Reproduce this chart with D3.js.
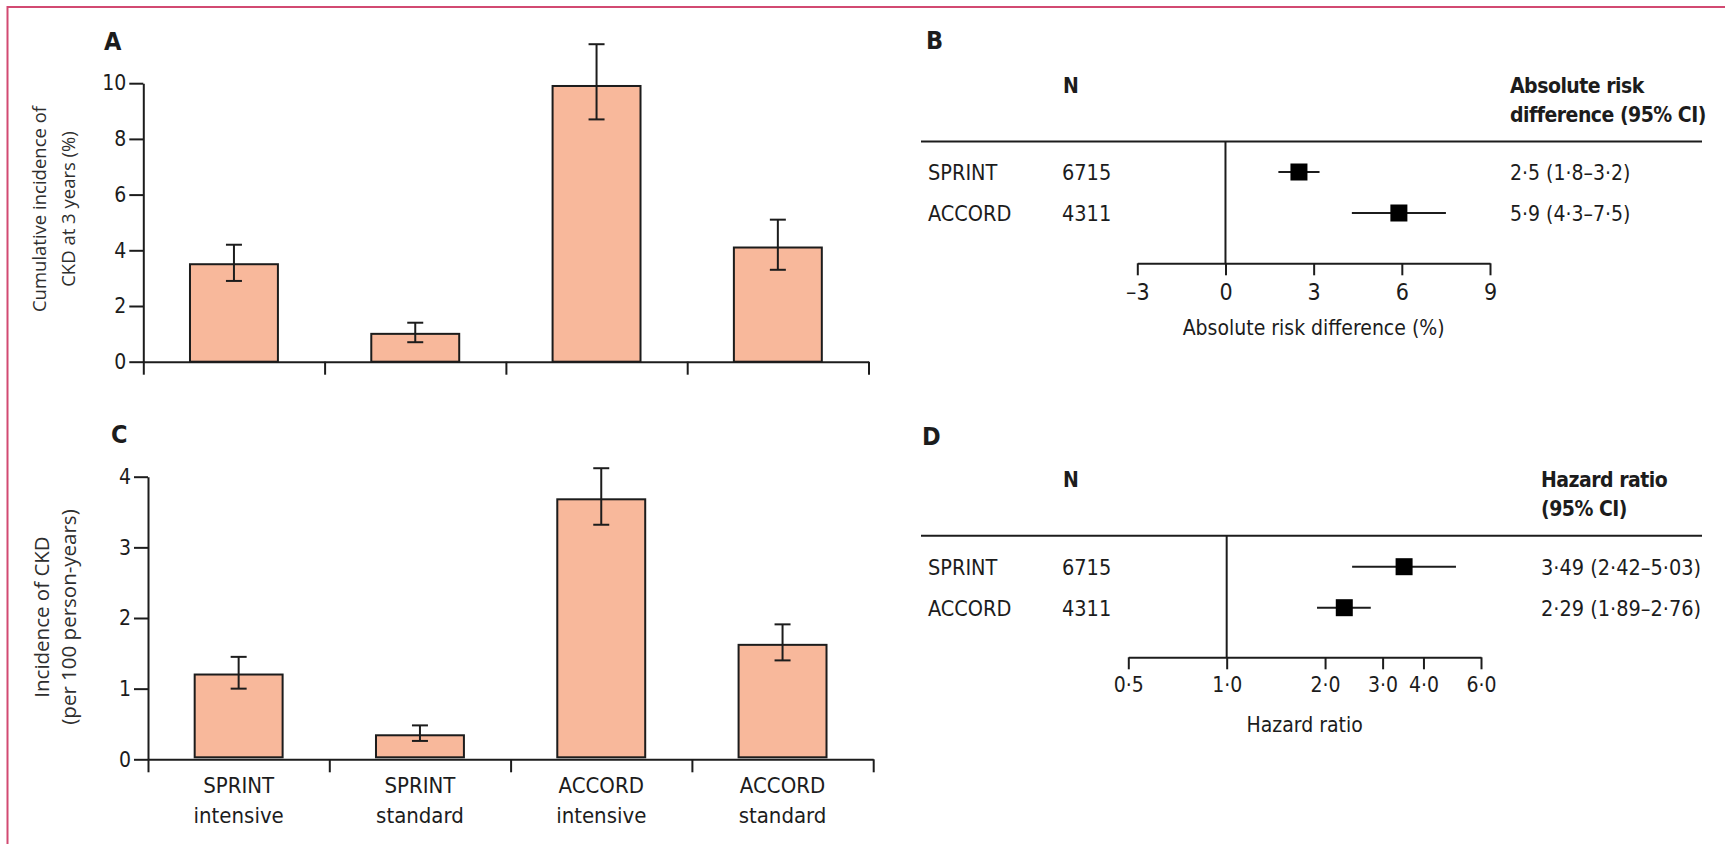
<!DOCTYPE html>
<html>
<head>
<meta charset="utf-8">
<script src="https://cdn.jsdelivr.net/npm/d3@7"></script>
<style>
  html, body { margin: 0; padding: 0; background: #ffffff; }
  svg { display: block; }
  .cond { font-stretch: condensed; }
</style>
</head>
<body>
<div id="chart"></div>
<script>
/* CKD incidence figure: bar charts (A, C) and forest plots (B, D) */
(function () {
  'use strict';

  // ---- data ----
  var CATEGORIES = ['SPRINT intensive', 'SPRINT standard', 'ACCORD intensive', 'ACCORD standard'];

  var CUM_INCIDENCE = [3.5, 1.0, 9.9, 4.1];
  var CUM_LOWER     = [2.9, 0.7, 8.7, 3.3];
  var CUM_UPPER     = [4.2, 1.4, 11.4, 5.1];
  var CUM_TICKS     = [0, 2, 4, 6, 8, 10];

  var INC_RATE  = [1.2, 0.34, 3.68, 1.62];
  var INC_LOWER = [1.0, 0.26, 3.32, 1.40];
  var INC_UPPER = [1.45, 0.48, 4.12, 1.91];
  var INC_TICKS = [0, 1, 2, 3, 4];

  var TRIALS  = ['SPRINT', 'ACCORD'];
  var TRIAL_N = [6715, 4311];

  var ARD       = [2.5, 5.9];
  var ARD_LOWER = [1.8, 4.3];
  var ARD_UPPER = [3.2, 7.5];
  var ARD_TICKS = [-3, 0, 3, 6, 9];

  var HR       = [3.49, 2.29];
  var HR_LOWER = [2.42, 1.89];
  var HR_UPPER = [5.03, 2.76];
  var HR_TICKS = [0.5, 1, 2, 3, 4, 6];

  // ---- style ----
  var W = 1725, H = 844;
  var COLOR_INK   = '#1c1c1c';
  var COLOR_TITLE = '#2e2e2e';
  var COLOR_BAR   = '#f8b89b';
  var COLOR_FRAME = '#d24a72';
  var FONT_MAIN   = '"DejaVu Sans Condensed", "Liberation Sans Narrow", "Roboto Condensed", "DejaVu Sans", sans-serif';
  var FONT_TITLE  = '"Open Sans", "Noto Sans", sans-serif';
  var BAR_PAD     = 0.515;
  var CAP_W       = 16;
  var BOX         = 17;

  function fmtDot(v, digits) {
    return v.toFixed(digits).replace('.', '\u00b7');
  }

  function addText(g, x, y, str, size, opts) {
    opts = opts || {};
    return g.append('text')
      .attr('class', opts.family ? null : 'cond')
      .attr('x', x).attr('y', y)
      .attr('text-anchor', opts.anchor || 'start')
      .attr('font-family', opts.family || FONT_MAIN)
      .attr('font-size', size + 'px')
      .attr('font-weight', opts.weight || 'normal')
      .attr('letter-spacing', opts.spacing || null)
      .attr('fill', opts.fill || COLOR_INK)
      .text(str);
  }

  function drawBarPanel(svg, cfg) {
    var g = svg.append('g');
    var x = d3.scaleBand().domain(CATEGORIES).range([cfg.x0, cfg.x1])
      .paddingInner(BAR_PAD).paddingOuter(BAR_PAD / 2);
    var y = d3.scaleLinear().domain([0, cfg.max]).range([cfg.yBase, cfg.yTop]);
    var edge = d3.scaleLinear().domain([0, CATEGORIES.length]).range([cfg.x0, cfg.x1]);
    var gap = cfg.baseGap || 0;

    g.selectAll('rect.bar').data(cfg.values).join('rect')
      .attr('class', 'bar')
      .attr('x', function (d, i) { return x(CATEGORIES[i]); })
      .attr('y', function (d) { return y(d); })
      .attr('width', x.bandwidth())
      .attr('height', function (d) { return cfg.yBase - gap - y(d); })
      .attr('fill', COLOR_BAR)
      .attr('stroke', COLOR_INK)
      .attr('stroke-width', 2);

    // error bars
    var eb = g.append('g').attr('stroke', COLOR_INK).attr('stroke-width', 2);
    cfg.values.forEach(function (v, i) {
      var cx = x(CATEGORIES[i]) + x.bandwidth() / 2;
      var yl = y(cfg.lower[i]), yu = y(cfg.upper[i]);
      eb.append('line').attr('x1', cx).attr('x2', cx).attr('y1', yl).attr('y2', yu);
      eb.append('line').attr('x1', cx - CAP_W / 2).attr('x2', cx + CAP_W / 2).attr('y1', yl).attr('y2', yl);
      eb.append('line').attr('x1', cx - CAP_W / 2).attr('x2', cx + CAP_W / 2).attr('y1', yu).attr('y2', yu);
    });

    // axes
    var yAxis = g.append('g')
      .attr('transform', 'translate(' + cfg.x0 + ',0)')
      .call(d3.axisLeft(y).tickValues(cfg.ticks).tickSize(14).tickPadding(3)
        .tickSizeOuter(0).tickFormat(d3.format('d')));
    var xAxis = g.append('g')
      .attr('transform', 'translate(0,' + cfg.yBase + ')')
      .call(d3.axisBottom(edge).tickValues(d3.range(CATEGORIES.length + 1))
        .tickSize(13).tickSizeOuter(0).tickFormat(''));

    [yAxis, xAxis].forEach(function (ax) {
      ax.selectAll('path, line').attr('stroke', COLOR_INK).attr('stroke-width', 2);
    });
    yAxis.selectAll('text')
      .attr('class', 'cond')
      .attr('font-family', FONT_MAIN)
      .attr('font-size', '21px')
      .attr('fill', COLOR_INK);

    // axis title
    cfg.titleLines.forEach(function (line, i) {
      g.append('text')
        .attr('transform', 'translate(' + cfg.titleX[i] + ',' + cfg.titleY + ') rotate(-90)')
        .attr('text-anchor', 'middle')
        .attr('font-family', FONT_TITLE)
        .attr('font-size', cfg.titleSize + 'px')
        .attr('fill', COLOR_TITLE)
        .text(line);
    });

    addText(svg, cfg.letterX, cfg.letterY, cfg.letter, 25, { weight: 'bold' });

    if (cfg.showCategories) {
      CATEGORIES.forEach(function (c) {
        var cx = x(c) + x.bandwidth() / 2;
        var parts = c.split(' ');
        addText(g, cx, cfg.catY[0], parts[0], 22, { anchor: 'middle' });
        addText(g, cx, cfg.catY[1], parts[1], 22, { anchor: 'middle' });
      });
    }
  }

  function drawForest(svg, cfg) {
    var g = svg.append('g');
    var x = cfg.scale;
    var rowY = d3.scalePoint().domain(TRIALS).range(cfg.rows);

    addText(svg, cfg.letterX, cfg.letterY, cfg.letter, 25, { weight: 'bold' });
    addText(g, 1063, cfg.headerY, 'N', 21, { weight: 'bold' });
    cfg.estHeader.forEach(function (line, i) {
      addText(g, cfg.estX, cfg.headerY + i * 29, line, 21, { weight: 'bold', spacing: '-0.5' });
    });

    // header rule and reference line
    g.append('line')
      .attr('x1', 921).attr('x2', 1702)
      .attr('y1', cfg.ruleY).attr('y2', cfg.ruleY)
      .attr('stroke', COLOR_INK).attr('stroke-width', 2);
    g.append('line')
      .attr('x1', x(cfg.ref)).attr('x2', x(cfg.ref))
      .attr('y1', cfg.ruleY).attr('y2', cfg.axisY)
      .attr('stroke', COLOR_INK).attr('stroke-width', 2);

    var ax = g.append('g')
      .attr('transform', 'translate(0,' + cfg.axisY + ')')
      .call(d3.axisBottom(x).tickValues(cfg.ticks).tickFormat(cfg.tickFmt)
        .tickSize(12).tickSizeOuter(0));
    ax.selectAll('path, line').attr('stroke', COLOR_INK).attr('stroke-width', 2);
    ax.selectAll('text')
      .attr('class', 'cond')
      .attr('y', cfg.tickBaseline).attr('dy', 0)
      .attr('font-family', FONT_MAIN)
      .attr('font-size', cfg.tickSize + 'px')
      .attr('fill', COLOR_INK);

    addText(g, (x.range()[0] + x.range()[1]) / 2, cfg.axisTitleY, cfg.axisTitle, 21, { anchor: 'middle' });

    TRIALS.forEach(function (t, i) {
      var cy = rowY(t);
      addText(g, 928, cy + 8, t, 21.5);
      addText(g, 1062, cy + 8, String(TRIAL_N[i]), 21.5);
      addText(g, cfg.estX, cy + 8,
        fmtDot(cfg.est[i], cfg.digits) + ' (' + fmtDot(cfg.lo[i], cfg.digits) + '\u2013' +
        fmtDot(cfg.hi[i], cfg.digits) + ')', cfg.estSize);

      g.append('line')
        .attr('x1', x(cfg.lo[i])).attr('x2', x(cfg.hi[i]))
        .attr('y1', cy).attr('y2', cy)
        .attr('stroke', COLOR_INK).attr('stroke-width', 2);
      g.append('rect')
        .attr('x', x(cfg.est[i]) - BOX / 2).attr('y', cy - BOX / 2)
        .attr('width', BOX).attr('height', BOX)
        .attr('fill', '#000000');
    });
  }

  var svg = d3.select('#chart').append('svg')
    .attr('width', W).attr('height', H)
    .attr('viewBox', '0 0 ' + W + ' ' + H);

  svg.append('rect').attr('width', W).attr('height', H).attr('fill', '#ffffff');

  // figure frame (left and top rules)
  svg.append('path')
    .attr('d', 'M7.5,' + H + ' V7 H' + W)
    .attr('fill', 'none')
    .attr('stroke', COLOR_FRAME)
    .attr('stroke-width', 2);

  drawBarPanel(svg, {
    letter: 'A', letterX: 104, letterY: 50,
    x0: 143.3, x1: 868.5, yTop: 83.2, yBase: 361.7, max: 10,
    ticks: CUM_TICKS, values: CUM_INCIDENCE, lower: CUM_LOWER, upper: CUM_UPPER,
    titleLines: ['Cumulative incidence of', 'CKD at 3 years (%)'],
    titleX: [46, 75], titleY: 209, titleSize: 18.5,
    showCategories: false
  });

  drawBarPanel(svg, {
    letter: 'C', letterX: 111, letterY: 443,
    x0: 148, x1: 873.2, yTop: 476.7, yBase: 759.3, max: 4,
    ticks: INC_TICKS, values: INC_RATE, lower: INC_LOWER, upper: INC_UPPER,
    titleLines: ['Incidence of CKD', '(per 100 person-years)'],
    titleX: [49, 76], titleY: 617, titleSize: 20.5, baseGap: 2,
    showCategories: true, catY: [793.3, 823.3]
  });

  drawForest(svg, {
    letter: 'B', letterX: 926, letterY: 49,
    headerY: 93, estX: 1510,
    estHeader: ['Absolute risk', 'difference (95% CI)'],
    ruleY: 141.5, axisY: 263.3, rows: [172, 213],
    scale: d3.scaleLinear().domain([-3, 9]).range([1137.3, 1490]),
    ref: 0, ticks: ARD_TICKS,
    tickFmt: function (d) { return d < 0 ? '\u2013' + Math.abs(d) : String(d); },
    tickSize: 23, tickBaseline: 36.7,
    axisTitle: 'Absolute risk difference (%)', axisTitleY: 335,
    est: ARD, lo: ARD_LOWER, hi: ARD_UPPER, digits: 1, estSize: 21
  });

  drawForest(svg, {
    letter: 'D', letterX: 922, letterY: 445,
    headerY: 486.5, estX: 1541,
    estHeader: ['Hazard ratio', '(95% CI)'],
    ruleY: 535.7, axisY: 657.3, rows: [566.7, 607.7],
    scale: d3.scaleLog().domain([0.5, 6]).range([1128.3, 1481]),
    ref: 1, ticks: HR_TICKS,
    tickFmt: function (d) { return fmtDot(d, 1); },
    tickSize: 21, tickBaseline: 34.4,
    axisTitle: 'Hazard ratio', axisTitleY: 731.7,
    est: HR, lo: HR_LOWER, hi: HR_UPPER, digits: 2, estSize: 21.5
  });
})();
</script>
</body>
</html>
